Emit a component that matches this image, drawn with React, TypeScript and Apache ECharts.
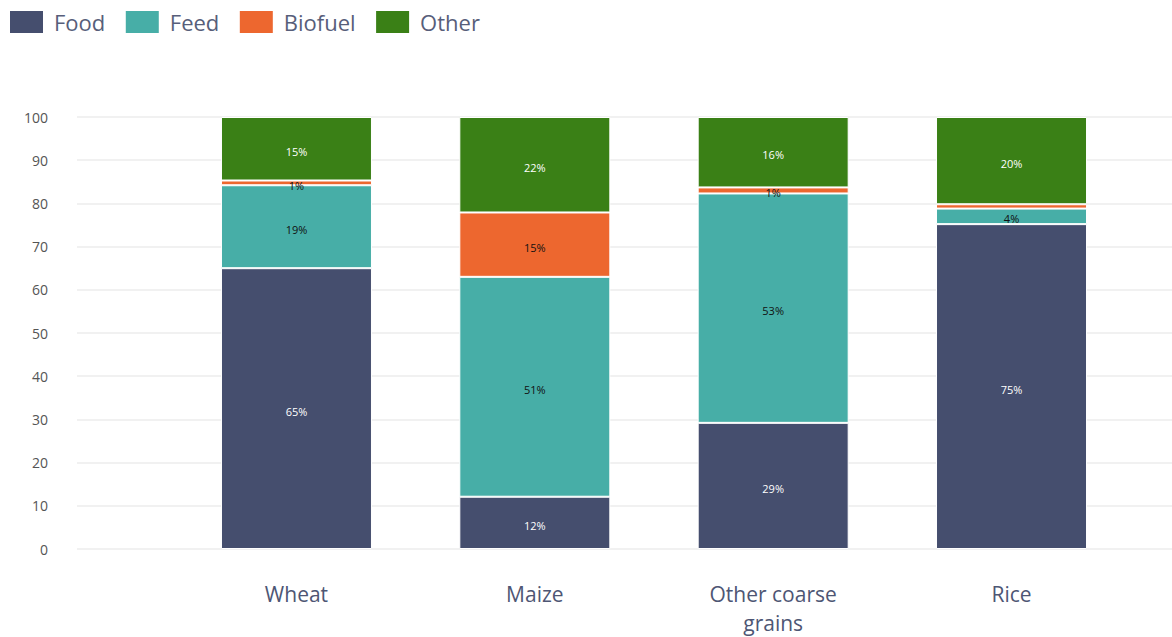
import React, { useEffect, useRef } from "react";
import * as echarts from "echarts";

const categories = ["Wheat", "Maize", "Other coarse\ngrains", "Rice"];
const food = [65.0, 12.1, 29.2, 75.2];
const feed = [19.2, 50.9, 53.1, 3.6];
const biofuel = [1.1, 14.9, 1.4, 1.0];
const other = [14.7, 22.1, 16.3, 20.2];
const seriesNames = ["Food", "Feed", "Biofuel", "Other"];
const colors = ["#454e6e", "#47aea7", "#ed672f", "#3a8016"];
const labelColors = ["#ffffff", "#111111", "#111111", "#ffffff"];
// labels the reference does not print (too thin to fit next to a neighbour)
const hiddenLabels = [[], [], [3], []];
const yTicks = [0, 100, 10];

export default function App() {
  const ref = useRef<HTMLDivElement>(null);
  useEffect(() => {
    if (!ref.current) return;
    const chart = echarts.init(ref.current, null, { renderer: "svg" });
    const datasets = [food, feed, biofuel, other];
    chart.setOption({
      animation: false,
      textStyle: { fontFamily: "Open Sans" },
      legend: {
        left: 8,
        top: 9,
        padding: 0,
        itemWidth: 35,
        itemHeight: 24,
        itemGap: 18.5,
        icon: "rect",
        textStyle: { fontSize: 22, color: "#575e7a", fontFamily: "Open Sans", padding: [0, 0, 0, 5] },
        data: seriesNames,
      },
      grid: [
        { left: 77, right: 0, top: 117, bottom: 88, outerBoundsMode: "none" },
        { left: 177.3, right: 41.3, top: 117, bottom: 88, outerBoundsMode: "none" },
      ],
      xAxis: [
        { type: "value", gridIndex: 0, show: false, min: 0, max: 1 },
        {
          type: "category",
          gridIndex: 1,
          data: categories,
          axisLine: { show: false },
          axisTick: { show: false },
          axisLabel: {
            fontSize: 21,
            color: "#4e5674",
            margin: 30,
            lineHeight: 29,
            fontFamily: "Open Sans",
          },
        },
      ],
      yAxis: [
        {
          type: "value",
          gridIndex: 0,
          min: yTicks[0],
          max: yTicks[1],
          interval: yTicks[2],
          axisLine: { show: false },
          axisTick: { show: false },
          axisLabel: { fontSize: 14, color: "#555555", margin: 29, fontFamily: "Open Sans" },
          splitLine: { lineStyle: { color: "#ececec", width: 1.5 } },
        },
        {
          type: "value",
          gridIndex: 1,
          min: yTicks[0],
          max: yTicks[1],
          show: false,
        },
      ],
      series: datasets.map((d, i) => ({
        name: seriesNames[i],
        type: "bar",
        stack: "total",
        xAxisIndex: 1,
        yAxisIndex: 1,
        barWidth: 151,
        data: d,
        itemStyle: { color: colors[i], borderColor: "#ffffff", borderWidth: 1 },
        label: {
          show: true,
          position: "inside",
          offset: [0, 2.5],
          fontSize: 11,
          color: labelColors[i],
          fontFamily: "Open Sans",
          formatter: (p: any) =>
            (hiddenLabels[i] as number[]).includes(p.dataIndex) ? "" : Math.round(p.value) + "%",
        },
      })),
    });
    return () => chart.dispose();
  }, []);
  return <div ref={ref} style={{ width: 1172, height: 637, position: "absolute", left: 0, top: 0 }} />;
}
